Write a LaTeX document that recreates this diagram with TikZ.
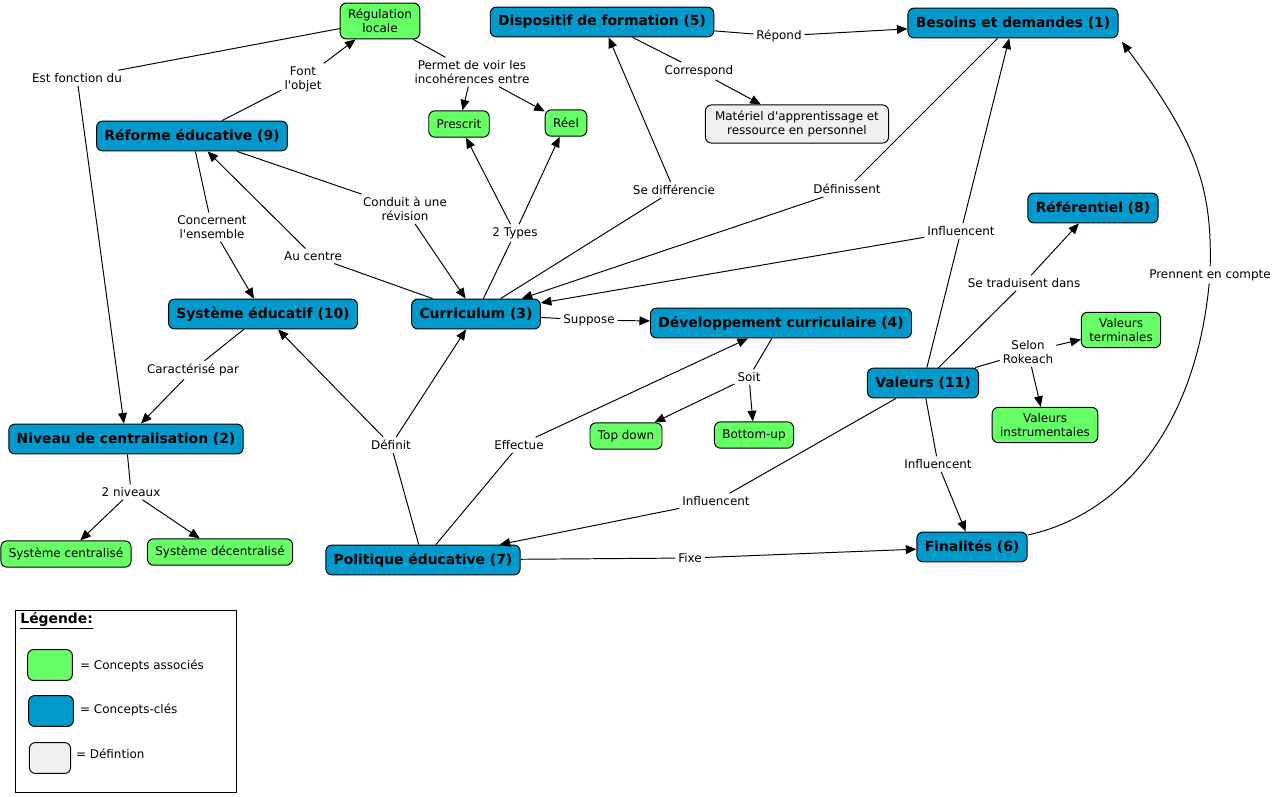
\documentclass[tikz,border=0pt]{standalone}
\usepackage{fontspec}
\setmainfont{DejaVu Sans}
\usepackage{tikz}
\usetikzlibrary{arrows.meta}
\definecolor{cmapblue}{RGB}{0,153,204}
\definecolor{cmapgreen}{RGB}{102,255,102}
\definecolor{cmapgray}{RGB}{240,240,240}
\newcommand\lienfont{\fontsize{6.8}{7.9}\selectfont}
\newcommand\clefont{\bfseries\fontsize{7.9}{9.5}\selectfont}
\newcommand\apos{\textquotesingle}
\tikzset{cle/.style={draw, fill=cmapblue, rounded corners=3.5pt, font=\clefont, minimum height=17pt, inner xsep=4.5pt}}
\tikzset{assoc/.style={draw, fill=cmapgreen, rounded corners=3.5pt, font=\lienfont, align=center, minimum height=15pt, inner xsep=4.5pt, inner ysep=3.5pt}}
\tikzset{defin/.style={assoc, fill=cmapgray, inner xsep=5.5pt}}
\tikzset{lien/.style={font=\lienfont, align=center, inner sep=1.5pt}}
\tikzset{fleche/.style={-{Triangle[length=6pt, width=5pt]}}}

\begin{document}
\begin{tikzpicture}[x=0.02cm, y=-0.02cm, line width=0.55pt]
    \useasboundingbox (0,0) rectangle (1275,796);

    % concepts-cles
    \node [cle] (besoins) at (1013,23) {Besoins et demandes (1)};
    \node [cle] (niveau) at (126,439) {Niveau de centralisation (2)};
    \node [cle] (curri) at (476,314) {Curriculum (3)};
    \node [cle] (devel) at (781,323) {Développement curriculaire (4)};
    \node [cle] (dispo) at (602,22) {Dispositif de formation (5)};
    \node [cle] (finalites) at (972,547) {Finalités (6)};
    \node [cle] (politique) at (423,560) {Politique éducative (7)};
    \node [cle] (referentiel) at (1093,208) {Référentiel (8)};
    \node [cle] (reforme) at (192,136) {Réforme éducative (9)};
    \node [cle] (systeme) at (263,314) {Système éducatif (10)};
    \node [cle] (valeurs) at (923,383) {Valeurs (11)};

    % concepts associes
    \node [assoc] (regul) at (380,21) {Régulation\\locale};
    \node [assoc] (prescrit) at (459,124) {Prescrit};
    \node [assoc] (reel) at (566,123) {Réel};
    \node [assoc] (topdown) at (626,436) {Top down};
    \node [assoc] (bottomup) at (754,435) {Bottom-up};
    \node [assoc] (centr) at (66,554) {Système centralisé};
    \node [assoc] (decentr) at (220,552) {Système décentralisé};
    \node [assoc] (vterm) at (1121,330) {Valeurs\\terminales};
    \node [assoc] (vinstr) at (1045,425) {Valeurs\\instrumentales};
    \node [defin] (materiel) at (797,124) {Matériel d\apos apprentissage et\\ressource en personnel};

    % liens
    \node [lien] (estfct) at (77,78) {Est fonction du};
    \node [lien] (fontobj) at (303,79) {Font\\l\apos objet};
    \node [lien] (permet) at (472,72) {Permet de voir les\\incohérences entre};
    \node [lien] (corresp) at (699,71) {Correspond};
    \node [lien] (repond) at (779,36) {Répond};
    \node [lien] (concern) at (212,227) {Concernent\\l\apos ensemble};
    \node [lien] (aucentre) at (313,256) {Au centre};
    \node [lien] (conduit) at (405,209) {Conduit à une\\révision};
    \node [lien] (types) at (515,233) {2 Types};
    \node [lien] (sediff) at (674,190) {Se différencie};
    \node [lien] (definiss) at (847,189) {Définissent};
    \node [lien] (influA) at (961,231) {Influencent};
    \node [lien] (setrad) at (1024,283) {Se traduisent dans};
    \node [lien] (prennent) at (1210,275) {Prennent en compte};
    \node [lien] (suppose) at (589,320) {Suppose};
    \node [lien] (soit) at (749,377) {Soit};
    \node [lien] (selon) at (1028,352) {Selon\\Rokeach};
    \node [lien] (caract) at (193,370) {Caractérisé par};
    \node [lien] (niveaux) at (131,492) {2 niveaux};
    \node [lien] (definit) at (391,445) {Définit};
    \node [lien] (effectue) at (519,445) {Effectue};
    \node [lien] (influB) at (716,501) {Influencent};
    \node [lien] (influC) at (938,464) {Influencent};
    \node [lien] (fixe) at (690,558) {Fixe};

    \foreach \a/\b in {regul/estfct, reforme/fontobj, regul/permet, dispo/corresp, dispo/repond,
        reforme/concern, curri/aucentre, reforme/conduit, curri/types, curri/sediff,
        besoins/definiss, valeurs/influA, valeurs/setrad, curri/suppose, devel/soit,
        valeurs/selon, systeme/caract, niveau/niveaux, politique/definit, politique/effectue,
        valeurs/influB, valeurs/influC, politique/fixe}
        \draw (\a) -- (\b);

    \foreach \a/\b in {estfct/niveau, fontobj/regul, permet/prescrit, permet/reel, corresp/materiel,
        repond/besoins, concern/systeme, aucentre/reforme, conduit/curri, types/prescrit,
        types/reel, sediff/dispo, definiss/curri, influA/besoins, influA/curri,
        setrad/referentiel, suppose/devel, soit/topdown, soit/bottomup, selon/vterm,
        selon/vinstr, caract/niveau, niveaux/centr, niveaux/decentr, definit/systeme,
        definit/curri, effectue/devel, influB/politique, influC/finalites, fixe/finalites}
        \draw [fleche] (\a) -- (\b);

    \draw (finalites) .. controls (1120,515) and (1195,430) .. (prennent);
    \draw [fleche] (prennent) .. controls (1212,185) and (1195,140) .. ([xshift=2pt,yshift=-2pt]besoins.south east);

    % legende
    \draw (15,610) rectangle (236,792);
    \node [anchor=west, font=\clefont, inner sep=0pt] (legtitre) at (20,621) {\underline{Légende:}};
    \node [assoc, minimum width=25.5pt, minimum height=17.6pt] (legassoc) at (50,665) {};
    \node [cle, minimum width=25.5pt, minimum height=17.6pt] (legcle) at (51,711) {};
    \node [defin, minimum width=23.5pt, minimum height=17.6pt] (legdef) at (50,758) {};
    \node [lien, anchor=west] at (77,666) {= Concepts associés};
    \node [lien, anchor=west] at (77,710) {= Concepts-clés};
    \node [lien, anchor=west] at (73,754) {= Défintion};
\end{tikzpicture}
\end{document}
